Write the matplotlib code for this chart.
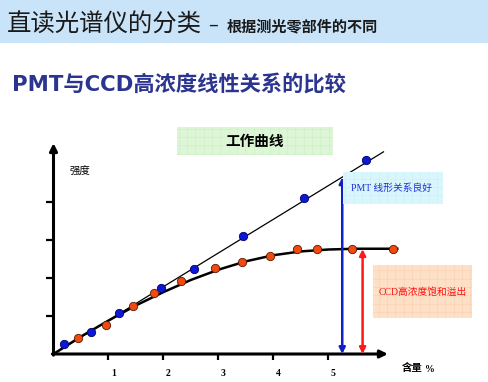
import matplotlib
matplotlib.use('Agg')
import matplotlib.pyplot as plt
import matplotlib.transforms as mtransforms
from matplotlib.patches import Rectangle

CJK = ['Noto Sans CJK SC', 'DejaVu Sans']
SERIF_CJK = ['Liberation Serif', 'Noto Sans CJK SC']

# data
pmt_x = [0.19, 0.69, 1.19, 1.95, 2.56, 3.44, 4.56, 5.68]
pmt_y = [0.26, 0.59, 1.09, 1.75, 2.25, 3.11, 4.11, 5.11]
pmt_fit_x = [0.0, 6.0]
pmt_fit_y = [0.0, 5.32]

ccd_x = [0.44, 0.95, 1.45, 1.82, 2.31, 2.94, 3.43, 3.94, 4.43, 4.80, 5.43, 6.17]
ccd_y = [0.43, 0.76, 1.26, 1.60, 1.92, 2.27, 2.43, 2.59, 2.76, 2.76, 2.76, 2.76]
ccd_fit_x = [0.0, 0.5, 1.0, 1.5, 2.0, 2.5, 3.0, 3.5, 4.0, 4.5, 5.0, 5.5, 6.25]
ccd_fit_y = [0.0, 0.46, 0.88, 1.28, 1.63, 1.95, 2.22, 2.44, 2.60, 2.70, 2.75, 2.77, 2.77]

x_ticks = [1, 2, 3, 4, 5]
x_ticklabels = ['1', '2', '3', '4', '5']
y_ticks = [1, 2, 3, 4]

pmt_arrow = (5.25, 4.65)
ccd_arrow = (5.62, 2.76)

W, H = 489, 382
fig = plt.figure(figsize=(W / 100, H / 100), dpi=100)


def fx(px):
    return px / W


def fy(py):
    return 1 - py / H


def box(x0, y0, x1, y1, fc, hc):
    r = Rectangle((fx(x0), fy(y1)), fx(x1) - fx(x0), fy(y0) - fy(y1),
                  transform=fig.transFigure, facecolor=fc, edgecolor=hc,
                  hatch='++', linewidth=0, zorder=0)
    fig.patches.append(r)


# header band
fig.patches.append(Rectangle((0, fy(43)), 1, 1 - fy(43), transform=fig.transFigure,
                             facecolor='#c9e4f9', edgecolor='none', zorder=0))
fig.text(fx(7), fy(25), '直读光谱仪的分类', family=CJK, fontsize=17.6,
         color='#1a1a1a', va='center', ha='left')
fig.text(fx(208), fy(26), '–', family=CJK, fontsize=13, color='#1a1a1a', va='center')
fig.text(fx(227), fy(26), '根据测光零部件的不同', family=CJK, fontsize=10.9,
         weight='bold', color='#1a1a1a', va='center')

fig.text(fx(12), fy(84), 'PMT与CCD高浓度线性关系的比较', family=['DejaVu Sans', 'Noto Sans CJK SC'],
         fontsize=15.3, weight='bold', color='#2b3590', va='center')

# label boxes
plt.rcParams['hatch.linewidth'] = 0.3
box(177, 127, 333, 155, '#dcf6d6', '#c8ecc0')
fig.text(fx(255), fy(141), '工作曲线', family=CJK, fontsize=10.5, weight='bold',
         ha='center', va='center')
box(343, 172, 443, 204, '#d8f6fc', '#c4eef6')
fig.text(fx(351), fy(188), 'PMT 线形关系良好', family=SERIF_CJK, fontsize=7,
         color='#2030d0', va='center')
box(373, 265, 472, 318, '#fde0c6', '#f8ccaa')
fig.text(fx(379), fy(292), 'CCD高浓度饱和溢出', family=SERIF_CJK, fontsize=7,
         color='#ff1010', va='center')

# main chart
ax = fig.add_axes([fx(53.5), fy(354), 6.4 * 55 / W, 5.6 * 38 / H])
ax.patch.set_alpha(0)
ax.set_xlim(0, 6.4)
ax.set_ylim(0, 5.6)
for s in ax.spines.values():
    s.set_visible(False)

ax.plot(pmt_fit_x, pmt_fit_y, color='black', lw=0.9, zorder=2, clip_on=False)
ax.plot(ccd_fit_x, ccd_fit_y, color='black', lw=1.8, zorder=2, clip_on=False)
ax.plot(pmt_x, pmt_y, 'o', ms=6, color='#0b18d6', mec='#00006a', mew=0.6,
        zorder=4, clip_on=False)
ax.plot(ccd_x, ccd_y, 'o', ms=6, color='#f04a10', mec='#5a1a00', mew=0.6,
        zorder=4, clip_on=False)

arrow = dict(arrowstyle='-|>', lw=2.2, color='black', mutation_scale=11,
             shrinkA=0, shrinkB=0)
ax.annotate('', xy=(6.08, 0), xytext=(-0.02, 0), arrowprops=arrow, annotation_clip=False)
ax.annotate('', xy=(0, 5.55), xytext=(0, -0.03), arrowprops=arrow, annotation_clip=False)

ax.annotate('', xy=(pmt_arrow[0], 0), xytext=(pmt_arrow[0], pmt_arrow[1]),
            arrowprops=dict(arrowstyle='<|-|>', lw=1.8, color='#1020c8',
                            mutation_scale=9, shrinkA=0, shrinkB=0), zorder=3)
ax.annotate('', xy=(ccd_arrow[0], 0), xytext=(ccd_arrow[0], ccd_arrow[1]),
            arrowprops=dict(arrowstyle='<|-|>', lw=1.8, color='#ff1818',
                            mutation_scale=9, shrinkA=0, shrinkB=0), zorder=3)

ax.set_xticks(x_ticks)
ax.set_xticklabels(x_ticklabels, family='Liberation Serif', weight='bold', fontsize=7)
ax.set_yticks(y_ticks)
ax.set_yticklabels([])
ax.tick_params(axis='x', direction='out', length=4, width=1.6, pad=6.5)
ax.tick_params(axis='y', direction='out', length=5, width=1.6)
offset = mtransforms.ScaledTranslation(0.05, 0, fig.dpi_scale_trans)
for lab in ax.get_xticklabels():
    lab.set_transform(lab.get_transform() + offset)

fig.text(fx(70), fy(172), '强度', family=CJK, fontsize=7.5, va='center')
fig.text(fx(402), fy(368), '含量', family=CJK, fontsize=7.5, weight='bold', va='center')
fig.text(fx(425), fy(369), '%', family='Liberation Serif', fontsize=7, weight='bold',
         va='center')

fig.savefig('out.png', dpi=100)
